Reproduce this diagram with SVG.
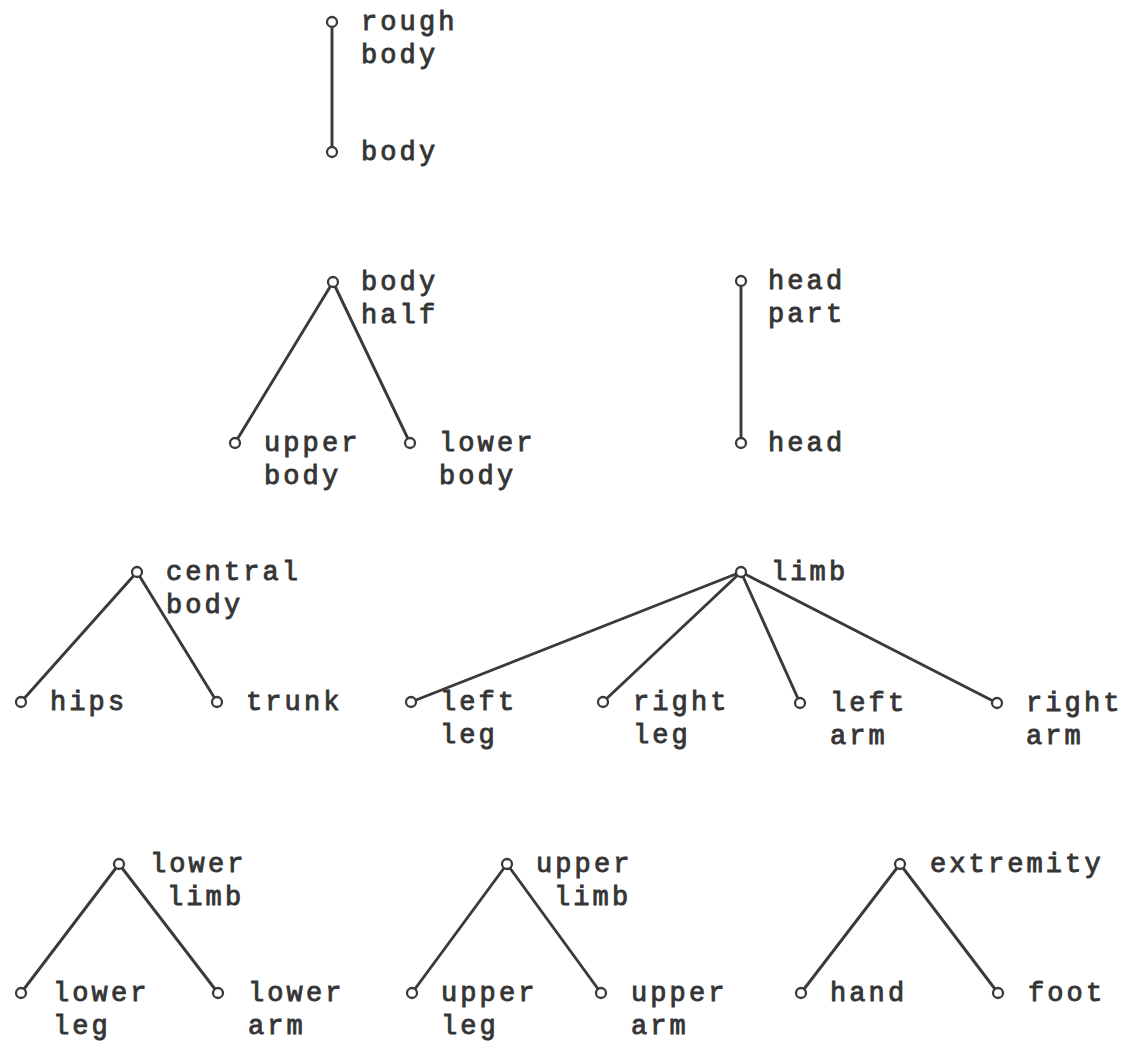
<svg xmlns="http://www.w3.org/2000/svg" width="1132" height="1041" viewBox="0 0 1132 1041">
  <style>
    .edge { stroke: #3a3a3a; stroke-width: 2.9; stroke-linecap: round; fill: none; }
    .dot { fill: #ffffff; stroke: #3a3a3a; stroke-width: 2.3; }
    .lbl { font-family: "Liberation Mono", "DejaVu Sans Mono", monospace; font-size: 27px; letter-spacing: 3.1px; fill: #353535; stroke: #353535; stroke-width: 0.9; }
  </style>
  <rect width="1132" height="1041" fill="#ffffff"/>

  <!-- connectors between node centres -->
  <g id="connectors">
    <line class="edge" x1="332" y1="22" x2="332" y2="152"/>
    <line class="edge" x1="333" y1="282" x2="235" y2="443"/>
    <line class="edge" x1="333" y1="282" x2="410" y2="443"/>
    <line class="edge" x1="741" y1="281" x2="741" y2="443"/>
    <line class="edge" x1="137" y1="572" x2="21" y2="702"/>
    <line class="edge" x1="137" y1="572" x2="217" y2="702"/>
    <line class="edge" x1="741" y1="572" x2="411" y2="702"/>
    <line class="edge" x1="741" y1="572" x2="603" y2="702"/>
    <line class="edge" x1="741" y1="572" x2="800" y2="703"/>
    <line class="edge" x1="741" y1="572" x2="997" y2="703"/>
    <line class="edge" x1="119" y1="864" x2="21" y2="993"/>
    <line class="edge" x1="119" y1="864" x2="218" y2="993"/>
    <line class="edge" x1="507" y1="864" x2="412" y2="993"/>
    <line class="edge" x1="507" y1="864" x2="601" y2="993"/>
    <line class="edge" x1="900" y1="864" x2="801" y2="993"/>
    <line class="edge" x1="900" y1="864" x2="998" y2="993"/>
  </g>

  <!-- nodes: small open circle plus a label to its right -->
  <g id="rough-body"><circle class="dot" cx="332" cy="22" r="5"/><text class="lbl" y="29.5"><tspan x="361">rough</tspan><tspan x="361" dy="33">body</tspan></text></g>
  <g id="body"><circle class="dot" cx="332" cy="152" r="5"/><text class="lbl" x="361" y="159.5">body</text></g>

  <g id="body-half"><circle class="dot" cx="333" cy="282" r="5"/><text class="lbl" y="289.5"><tspan x="361">body</tspan><tspan x="361" dy="33">half</tspan></text></g>
  <g id="upper-body"><circle class="dot" cx="235" cy="443" r="5"/><text class="lbl" y="450.5"><tspan x="264">upper</tspan><tspan x="264" dy="33">body</tspan></text></g>
  <g id="lower-body"><circle class="dot" cx="410" cy="443" r="5"/><text class="lbl" y="450.5"><tspan x="439">lower</tspan><tspan x="439" dy="33">body</tspan></text></g>

  <g id="head-part"><circle class="dot" cx="741" cy="281" r="5"/><text class="lbl" y="288.5"><tspan x="768">head</tspan><tspan x="768" dy="33">part</tspan></text></g>
  <g id="head"><circle class="dot" cx="741" cy="443" r="5"/><text class="lbl" x="768" y="450.5">head</text></g>

  <g id="central-body"><circle class="dot" cx="137" cy="572" r="5"/><text class="lbl" y="579.5"><tspan x="166">central</tspan><tspan x="166" dy="33">body</tspan></text></g>
  <g id="hips"><circle class="dot" cx="21" cy="702" r="5"/><text class="lbl" x="50" y="709.5">hips</text></g>
  <g id="trunk"><circle class="dot" cx="217" cy="702" r="5"/><text class="lbl" x="246" y="709.5">trunk</text></g>

  <g id="limb"><circle class="dot" cx="741" cy="572" r="5"/><text class="lbl" x="771" y="579.5">limb</text></g>
  <g id="left-leg"><circle class="dot" cx="411" cy="702" r="5"/><text class="lbl" y="709.5"><tspan x="440">left</tspan><tspan x="440" dy="33">leg</tspan></text></g>
  <g id="right-leg"><circle class="dot" cx="603" cy="702" r="5"/><text class="lbl" y="709.5"><tspan x="633">right</tspan><tspan x="633" dy="33">leg</tspan></text></g>
  <g id="left-arm"><circle class="dot" cx="800" cy="703" r="5"/><text class="lbl" y="710.5"><tspan x="830">left</tspan><tspan x="830" dy="33">arm</tspan></text></g>
  <g id="right-arm"><circle class="dot" cx="997" cy="703" r="5"/><text class="lbl" y="710.5"><tspan x="1026">right</tspan><tspan x="1026" dy="33">arm</tspan></text></g>

  <g id="lower-limb"><circle class="dot" cx="119" cy="864" r="5"/><text class="lbl" y="871.5"><tspan x="150">lower</tspan><tspan x="167" dy="33">limb</tspan></text></g>
  <g id="lower-leg"><circle class="dot" cx="21" cy="993" r="5"/><text class="lbl" y="1000.5"><tspan x="53">lower</tspan><tspan x="53" dy="33">leg</tspan></text></g>
  <g id="lower-arm"><circle class="dot" cx="218" cy="993" r="5"/><text class="lbl" y="1000.5"><tspan x="248">lower</tspan><tspan x="248" dy="33">arm</tspan></text></g>

  <g id="upper-limb"><circle class="dot" cx="507" cy="864" r="5"/><text class="lbl" y="871.5"><tspan x="536">upper</tspan><tspan x="554" dy="33">limb</tspan></text></g>
  <g id="upper-leg"><circle class="dot" cx="412" cy="993" r="5"/><text class="lbl" y="1000.5"><tspan x="441">upper</tspan><tspan x="441" dy="33">leg</tspan></text></g>
  <g id="upper-arm"><circle class="dot" cx="601" cy="993" r="5"/><text class="lbl" y="1000.5"><tspan x="631">upper</tspan><tspan x="631" dy="33">arm</tspan></text></g>

  <g id="extremity"><circle class="dot" cx="900" cy="864" r="5"/><text class="lbl" x="930" y="871.5">extremity</text></g>
  <g id="hand"><circle class="dot" cx="801" cy="993" r="5"/><text class="lbl" x="830" y="1000.5">hand</text></g>
  <g id="foot"><circle class="dot" cx="998" cy="993" r="5"/><text class="lbl" x="1028" y="1000.5">foot</text></g>
</svg>
